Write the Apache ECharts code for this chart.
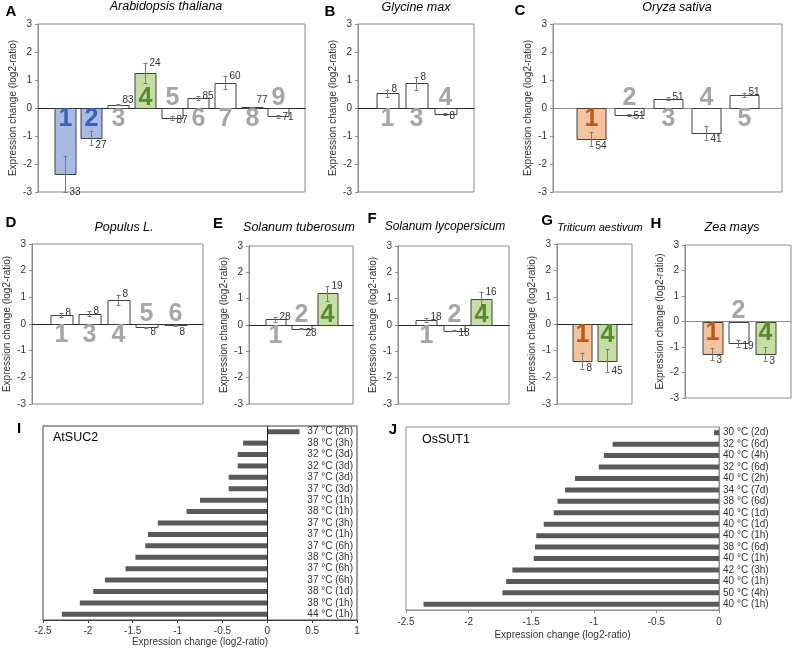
<!DOCTYPE html>
<html><head><meta charset="utf-8">
<script src="https://cdn.jsdelivr.net/npm/echarts@6/dist/echarts.min.js"></script>
<style>html,body{margin:0;padding:0;background:#fff}#c{width:793px;height:648px}</style>
</head><body><div id="c"></div>
<script>
// ---------------- DATA ----------------
// A – Arabidopsis thaliana
const A_genes  = ['1','2','3','4','5','6','7','8','9'];
const A_values = [-2.35,-1.07,0.12,1.25,-0.36,0.36,0.90,0.03,-0.29];
const A_errors = [0.65,0.26,0.02,0.35,0.06,0.07,0.23,0.01,0.05];
const A_n      = [33,27,83,24,87,85,60,77,71];
const A_clade  = ['blue','blue','','green','','','','',''];
// B – Glycine max
const B_genes  = ['1','3','4'];
const B_values = [0.52,0.88,-0.21];
const B_errors = [0.14,0.23,0.03];
const B_n      = [8,8,8];
const B_clade  = ['','',''];
// C – Oryza sativa
const C_genes  = ['1','2','3','4','5'];
const C_values = [-1.10,-0.25,0.33,-0.88,0.47];
const C_errors = [0.25,0.03,0.05,0.25,0.08];
const C_n      = [54,51,51,41,51];
const C_clade  = ['orange','','','',''];
// D – Populus L.
const D_genes  = ['1','3','4','5','6'];
const D_values = [0.34,0.38,0.90,-0.12,-0.05];
const D_errors = [0.08,0.09,0.20,0.02,0.01];
const D_n      = [8,8,8,8,8];
const D_clade  = ['','','','',''];
// E – Solanum tuberosum
const E_genes  = ['1','2','4'];
const E_values = [0.21,-0.14,1.20];
const E_errors = [0.09,0.02,0.28];
const E_n      = [28,28,19];
const E_clade  = ['','','green'];
// F – Solanum lycopersicum
const F_genes  = ['1','2','4'];
const F_values = [0.19,-0.21,0.97];
const F_errors = [0.06,0.03,0.29];
const F_n      = [18,18,16];
const F_clade  = ['','','green'];
// G – Triticum aestivum
const G_genes  = ['1','4'];
const G_values = [-1.37,-1.37];
const G_errors = [0.30,0.42];
const G_n      = [8,45];
const G_clade  = ['orange','green'];
// H – Zea mays
const H_genes  = ['1','2','4'];
const H_values = [-1.27,-0.86,-1.27];
const H_errors = [0.24,0.13,0.27];
const H_n      = [3,19,3];
const H_clade  = ['orange','','green'];
// I – AtSUC2
const I_conditions = ['37 °C (2h)','38 °C (3h)','32 °C (3d)','32 °C (3d)','37 °C (3d)','37 °C (3d)','37 °C (1h)','38 °C (1h)','37 °C (3h)','37 °C (1h)','37 °C (6h)','38 °C (3h)','37 °C (6h)','37 °C (6h)','38 °C (1d)','38 °C (1h)','44 °C (1h)'];
const I_values = [0.36,-0.27,-0.33,-0.33,-0.43,-0.43,-0.75,-0.90,-1.22,-1.33,-1.36,-1.47,-1.58,-1.81,-1.94,-2.09,-2.29];
// J – OsSUT1
const J_conditions = ['30 °C (2d)','32 °C (6d)','40 °C (4h)','32 °C (6d)','40 °C (2h)','34 °C (7d)','38 °C (6d)','40 °C (1d)','40 °C (1d)','40 °C (1h)','38 °C (6d)','40 °C (1h)','42 °C (3h)','40 °C (1h)','50 °C (4h)','40 °C (1h)'];
const J_values = [-0.04,-0.85,-0.92,-0.96,-1.15,-1.23,-1.29,-1.32,-1.40,-1.46,-1.47,-1.48,-1.65,-1.70,-1.73,-2.36];

const Y_TICKS = { min: -3, max: 3, interval: 1 };
const AXIS_NAME = 'Expression change (log2-ratio)';

// ---------------- LAYOUT / STYLE ----------------
const FONT = '"Liberation Sans", Arial, Helvetica, sans-serif';
const barPanels = [
  {key:'A', title:'Arabidopsis thaliana', genes:A_genes, values:A_values, errors:A_errors, n:A_n, clade:A_clade},
  {key:'B', title:'Glycine max', genes:B_genes, values:B_values, errors:B_errors, n:B_n, clade:B_clade},
  {key:'C', title:'Oryza sativa', genes:C_genes, values:C_values, errors:C_errors, n:C_n, clade:C_clade},
  {key:'D', title:'Populus L.', genes:D_genes, values:D_values, errors:D_errors, n:D_n, clade:D_clade},
  {key:'E', title:'Solanum tuberosum', genes:E_genes, values:E_values, errors:E_errors, n:E_n, clade:E_clade},
  {key:'F', title:'Solanum lycopersicum', genes:F_genes, values:F_values, errors:F_errors, n:F_n, clade:F_clade},
  {key:'G', title:'Triticum aestivum', genes:G_genes, values:G_values, errors:G_errors, n:G_n, clade:G_clade},
  {key:'H', title:'Zea mays', genes:H_genes, values:H_values, errors:H_errors, n:H_n, clade:H_clade}
];
const frames = {
  A:{left:38, top:24, width:267, height:168, zero:'#262626', letter:[11,12], titlePos:[166,7], tsize:12.5},
  B:{left:358,top:24, width:116, height:168, zero:'#262626', letter:[330,12], titlePos:[416,8], tsize:12.5},
  C:{left:553,top:24, width:229, height:168, zero:'#8c8c8c', letter:[520,11], titlePos:[677,8], tsize:12.5},
  D:{left:32, top:244,width:171, height:160, zero:'#262626', letter:[11,223], titlePos:[124,228], tsize:12.5},
  E:{left:249,top:246,width:104, height:158, zero:'#262626', letter:[218,224], titlePos:[299,228], tsize:12.5},
  F:{left:398,top:246,width:111, height:158, zero:'#262626', letter:[372,219], titlePos:[445,227], tsize:12},
  G:{left:557,top:244,width:75,  height:160, zero:'#262626', letter:[547,221], titlePos:[600,228], tsize:11},
  H:{left:685,top:245,width:106, height:153, zero:'#8c8c8c', letter:[656,224], titlePos:[732,228], tsize:12.5}
};
const cladeStyle = {
  '':     {fill:'#ffffff', digit:'#a6a6a6'},
  blue:   {fill:'#a9bbe4', digit:'#3c62b4'},
  green:  {fill:'#c4dea3', digit:'#5a8a2f'},
  orange: {fill:'#f3c3a0', digit:'#b65a1e'}
};

function makeRender(p) {
  return function (params, api) {
    const i = params.dataIndex;
    const x = api.value(0), v = api.value(1), e = api.value(2);
    const base = api.coord([x, 0]);
    const end = api.coord([x, v]);
    const unit = api.size([1, 0])[0];
    const bw = Math.round(unit * 0.77);
    const st = cladeStyle[p.clade[i]];
    const cx = Math.round(base[0]) + 0.5;
    const yb = Math.round(base[1]) + 0.5, ye = Math.round(end[1]) + 0.5;
    const children = [];
    children.push({type:'rect', shape:{x: Math.round(cx - bw/2), y: Math.min(yb, ye), width: bw, height: Math.abs(ye - yb)},
      style:{fill: st.fill, stroke:'#404040', lineWidth:1}});
    const eHi = api.coord([x, v + e])[1], eLo = api.coord([x, v - e])[1];
    const es = {stroke:'#7a7a7a', lineWidth:1};
    children.push({type:'line', shape:{x1:cx, y1:eHi, x2:cx, y2:eLo}, style:es});
    children.push({type:'line', shape:{x1:cx-2, y1:Math.round(eHi)+0.5, x2:cx+2, y2:Math.round(eHi)+0.5}, style:es});
    children.push({type:'line', shape:{x1:cx-2, y1:Math.round(eLo)+0.5, x2:cx+2, y2:Math.round(eLo)+0.5}, style:es});
    const up = p.clade[i] ? v >= 0 : v < 0;
    children.push({type:'text', x: cx, y: base[1] + (up ? -10 : 11.5),
      style:{text: p.genes[i], font:'bold 25px ' + FONT, fill: st.digit, textAlign:'center', textVerticalAlign:'middle', align:'center', verticalAlign:'middle'}});
    const sgn = v >= 0 ? 1 : -1;
    let ly = api.coord([x, v + sgn * e])[1];
    if (Math.abs(ly - base[1]) < 8) ly = base[1] - sgn * 8;
    children.push({type:'text', x: cx + 4, y: ly,
      style:{text: String(p.n[i]), font:'10px ' + FONT, fill:'#333', textAlign:'left', textVerticalAlign:'middle', align:'left', verticalAlign:'middle'}});
    return {type:'group', children};
  };
}

const grids = [], xAxes = [], yAxes = [], series = [], graphics = [];
function txt(t, x, y, font, color) {
  return {type:'text', x, y, silent:true,
    style:{text:t, font, fill:color || '#000', textAlign:'center', textVerticalAlign:'middle', align:'center', verticalAlign:'middle'}};
}

barPanels.forEach((p, gi) => {
  const f = frames[p.key];
  grids.push({left:f.left, top:f.top, width:f.width, height:f.height, show:true, borderColor:'#8c8c8c', borderWidth:1, containLabel:false, outerBoundsMode:'none'});
  xAxes.push({type:'value', gridIndex:gi, min:0, max:p.values.length + 1,
    axisLine:{show:true, onZero:true, lineStyle:{color:f.zero, width:1}}, axisTick:{show:false}, axisLabel:{show:false}, splitLine:{show:false}});
  yAxes.push({type:'value', gridIndex:gi, min:Y_TICKS.min, max:Y_TICKS.max, interval:Y_TICKS.interval,
    name:AXIS_NAME, nameLocation:'middle', nameGap:20, nameTextStyle:{fontSize:10, color:'#333', fontFamily:FONT},
    axisLine:{show:true, lineStyle:{color:'#8c8c8c'}}, axisTick:{show:true, length:3, lineStyle:{color:'#8c8c8c'}},
    axisLabel:{fontSize:10, color:'#333', margin:6, fontFamily:FONT}, splitLine:{show:false}});
  series.push({type:'custom', xAxisIndex:gi, yAxisIndex:gi, z:3,
    data:p.values.map((v, i) => [i + 1, v, p.errors[i]]), renderItem:makeRender(p)});
  graphics.push(txt(p.key, f.letter[0], f.letter[1], 'bold 15px ' + FONT));
  graphics.push(txt(p.title, f.titlePos[0], f.titlePos[1], 'italic ' + f.tsize + 'px ' + FONT, '#000'));
});

// Panel I
grids.push({left:43, top:426, width:314, height:194, show:true, borderColor:'#404040', borderWidth:1, containLabel:false, outerBoundsMode:'none'});
xAxes.push({type:'value', gridIndex:8, min:-2.5, max:1, interval:0.5, name:AXIS_NAME, nameLocation:'middle', nameGap:16,
  nameTextStyle:{fontSize:10, color:'#333', fontFamily:FONT},
  axisLine:{show:true, onZero:false, lineStyle:{color:'#404040'}}, axisTick:{show:true, length:3, lineStyle:{color:'#404040'}},
  axisLabel:{fontSize:10, color:'#333', margin:6, fontFamily:FONT}, splitLine:{show:false}});
yAxes.push({type:'category', gridIndex:8, data:I_conditions, inverse:true, position:'right',
  axisLine:{show:false, onZero:false}, axisTick:{show:false},
  axisLabel:{inside:true, margin:4, interval:0, fontSize:10, color:'#333', fontFamily:FONT}});
series.push({type:'bar', xAxisIndex:8, yAxisIndex:8, data:I_values, barWidth:5, itemStyle:{color:'#595959'},
  markLine:{silent:true, symbol:['none','none'], label:{show:false}, lineStyle:{color:'#262626', type:'solid', width:1}, data:[{xAxis:0}]}});
graphics.push(txt('I', 19, 429, 'bold 15px ' + FONT));
graphics.push({type:'text', x:53, y:438, silent:true, style:{text:'AtSUC2', font:'12.5px ' + FONT, fill:'#000', textAlign:'left', textVerticalAlign:'middle', align:'left', verticalAlign:'middle'}});

// Panel J
grids.push({left:406, top:427, width:313, height:183, show:true, borderColor:'#8c8c8c', borderWidth:1, containLabel:false, outerBoundsMode:'none'});
xAxes.push({type:'value', gridIndex:9, min:-2.5, max:0, interval:0.5, name:AXIS_NAME, nameLocation:'middle', nameGap:20,
  nameTextStyle:{fontSize:10, color:'#333', fontFamily:FONT},
  axisLine:{show:true, onZero:false, lineStyle:{color:'#8c8c8c'}}, axisTick:{show:true, length:3, lineStyle:{color:'#8c8c8c'}},
  axisLabel:{fontSize:10, color:'#333', margin:7, fontFamily:FONT}, splitLine:{show:false}});
yAxes.push({type:'category', gridIndex:9, data:J_conditions, inverse:true, position:'right',
  axisLine:{show:true, onZero:false, lineStyle:{color:'#8c8c8c'}}, axisTick:{show:false},
  axisLabel:{margin:4, interval:0, fontSize:10, color:'#333', fontFamily:FONT}});
series.push({type:'bar', xAxisIndex:9, yAxisIndex:9, data:J_values, barWidth:5, itemStyle:{color:'#595959'}});
graphics.push(txt('J', 393, 430, 'bold 15px ' + FONT));
graphics.push({type:'text', x:422, y:440, silent:true, style:{text:'OsSUT1', font:'12.5px ' + FONT, fill:'#000', textAlign:'left', textVerticalAlign:'middle', align:'left', verticalAlign:'middle'}});

const chart = echarts.init(document.getElementById('c'), null, {renderer:'canvas'});
chart.setOption({
  animation:false,
  backgroundColor:'#ffffff',
  textStyle:{fontFamily:FONT},
  grid:grids, xAxis:xAxes, yAxis:yAxes, series:series,
  graphic:{elements:graphics}
});
</script></body></html>
